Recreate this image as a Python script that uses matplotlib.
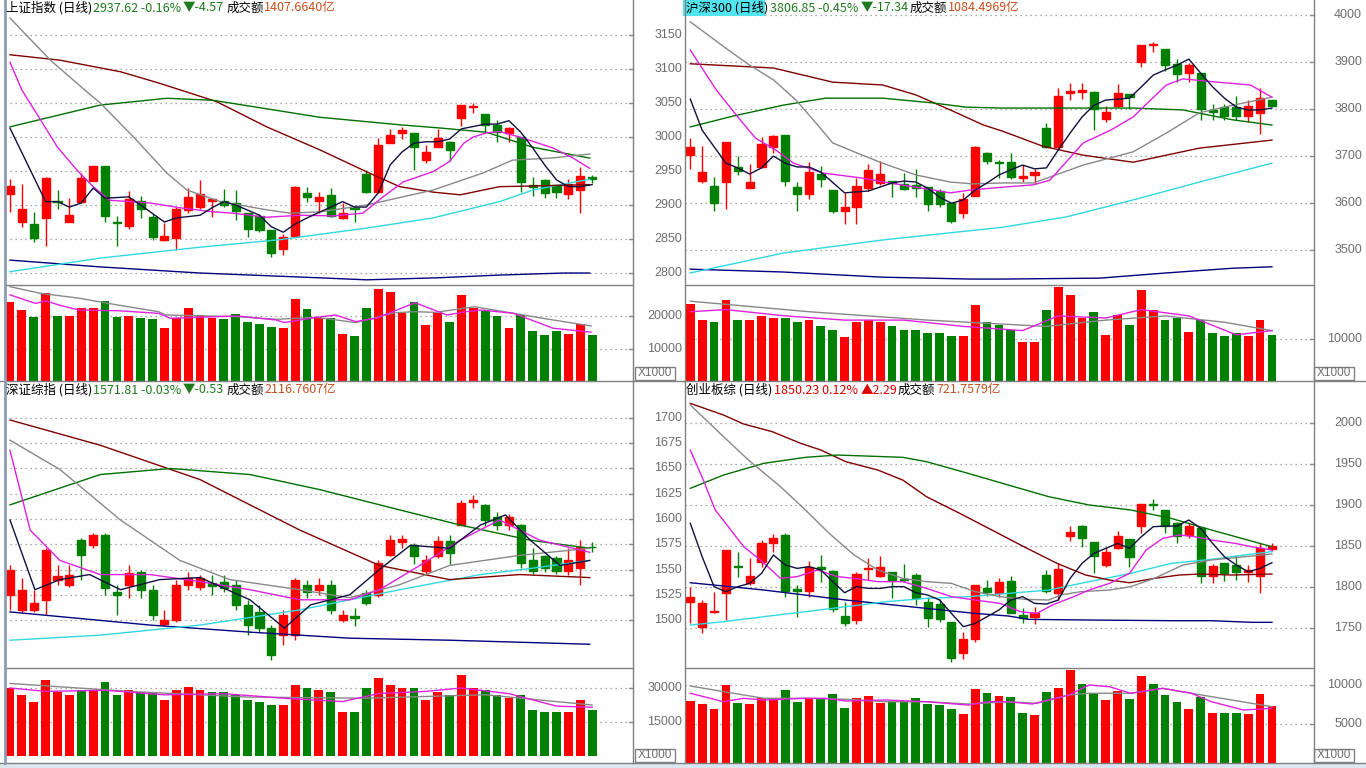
import matplotlib
matplotlib.use('Agg')
import matplotlib.pyplot as plt
import matplotlib.transforms as mtransforms
from matplotlib.patches import Rectangle
from matplotlib.lines import Line2D

W, H = 1366, 768
RED = '#ff0000'
GREEN = '#008000'
GRID = '#8c8c8c'
LABEL = '#6e6e6e'
CJK = ['Noto Sans CJK SC', 'DejaVu Sans']

# ---------------- 上证指数 ----------------
sh_open = [2916, 2875, 2872, 2881, 2906, 2875, 2904, 2935, 2957, 2875, 2869, 2906, 2882, 2849, 2852, 2893, 2897,
           2906, 2906, 2903, 2888, 2884, 2863, 2835, 2855, 2918, 2906, 2915, 2881, 2896, 2946, 2919, 2991, 3006,
           3006, 2966, 2985, 2993, 3028, 3044, 3034, 3018, 3006, 3000, 2930, 2937, 2930, 2916, 2922, 2940.5]
sh_high = [2938, 2931, 2890, 2941, 2922, 2910, 2947, 2957, 2957, 2884, 2921, 2913, 2887, 2874, 2897, 2925, 2937,
           2909, 2924, 2922, 2888, 2887, 2863, 2857, 2928, 2927, 2919, 2925, 2903, 2900, 2952, 2999, 3012, 3015,
           3006, 2988, 3012, 2994, 3047, 3050, 3034, 3025, 3015, 3000, 2941, 2938, 2930, 2938, 2956, 2944]
sh_low = [2890, 2868, 2846, 2840, 2894, 2875, 2903, 2935, 2875, 2840, 2865, 2881, 2849, 2847, 2834, 2888, 2894,
          2882, 2897, 2878, 2853, 2860, 2824, 2827, 2853, 2905, 2888, 2882, 2880, 2875, 2918, 2918, 2991, 2997,
          2952, 2962, 2985, 2965, 3016, 3035, 3006, 2993, 2993, 2919, 2913, 2910, 2910, 2909, 2888, 2932]
sh_close = [2928, 2894, 2852, 2940, 2904, 2885, 2940, 2957, 2884, 2874, 2909, 2894, 2853, 2855, 2894, 2912, 2916,
            2909, 2900, 2891, 2865, 2863, 2830, 2853, 2927, 2912, 2912, 2884, 2888, 2894, 2919, 2988, 3003, 3010,
            2985, 2978, 2999, 2981, 3047, 3046, 3018, 3007, 3013, 2934, 2927, 2918, 2919, 2931, 2942.2, 2937.6]
sh_vol = [24300, 21800, 19800, 27100, 20000, 20000, 22300, 22300, 24500, 19800, 20000, 19300, 19000, 16300, 19300,
          22300, 20300, 19500, 19200, 20600, 18300, 17700, 16800, 16300, 25200, 22100, 19300, 19300, 14500, 13900,
          22400, 28200, 27200, 21000, 24100, 17300, 20800, 18300, 26400, 22500, 21500, 20100, 16300, 20300, 15500,
          14200, 15500, 14500, 17600, 14200]
sh_black = [(0, 3013), (3, 2905), (4, 2905), (5, 2897), (6, 2903), (7, 2925), (8, 2910), (10, 2912), (11, 2900),
            (13, 2875), (14, 2881), (16, 2885), (17, 2896), (18, 2905), (19, 2900), (21, 2885), (22, 2868),
            (23, 2860), (24, 2872), (25, 2881), (28, 2905), (29, 2897), (30, 2897), (31, 2918), (32, 2959),
            (33, 2978), (34, 2991), (35, 2993), (36, 2993), (37, 2997), (38, 3012), (40, 3019), (41, 3019),
            (42, 3024), (43, 3007), (44, 2984), (45, 2959), (46, 2937), (47, 2927), (48, 2927), (49, 2930)]
sh_magenta = [(0, 3110), (1, 3069), (1.9, 3044), (4, 2985), (5.6, 2952), (7, 2927), (8.4, 2907), (11.8, 2903),
              (14.3, 2896), (17.1, 2890), (18.8, 2888), (21.6, 2882), (24.4, 2885), (27.2, 2884), (29.7, 2888),
              (31.4, 2912), (33.1, 2934), (35.6, 2949), (37, 2964), (38.2, 2991), (39, 3000), (40.1, 3006),
              (41.2, 3008), (42.9, 3000), (45.7, 2984), (47.4, 2969), (48.8, 2954)]
sh_gray = [(0, 3175), (3.4, 3113), (6.3, 3069), (7.6, 3050), (10.4, 3000), (13.2, 2947), (14.9, 2922),
           (17.7, 2905), (21.6, 2893), (23.6, 2888), (26.1, 2890), (30, 2900), (35.6, 2922), (39.8, 2947),
           (42.3, 2966), (45.5, 2969), (48.8, 2975)]
sh_green = [(0, 3015), (7.6, 3047), (13.2, 3057), (17.1, 3054), (26.1, 3029), (32.8, 3018), (36.4, 3013),
            (40.1, 3007), (44, 2985), (48.8, 2969)]
sh_maroon = [(0, 3121), (4.2, 3113), (9.3, 3096), (12.6, 3079), (17.4, 3052), (21.6, 3015), (26.1, 2981),
             (30, 2949), (32.8, 2927), (35.6, 2919), (37.9, 2915), (41.2, 2927), (44, 2928), (48.8, 2930)]
sh_cyan = [(0, 2802), (7.6, 2822), (16, 2838), (22.7, 2849), (26.1, 2857), (30, 2866), (35.6, 2881), (41.2, 2905),
           (44, 2922), (48.8, 2938)]
sh_navy = [(0, 2819), (7.6, 2809), (16, 2800), (26, 2793), (30, 2790), (36, 2793), (41.2, 2797), (46.6, 2800),
           (48.8, 2800)]
sh_vgray = [(0, 28900), (2.5, 26900), (5.8, 25400), (9.1, 23300), (12.5, 21300), (13.1, 20300), (19.1, 19800),
            (22.4, 19000), (25.8, 19600), (29.1, 18000), (32.4, 21000), (34.1, 21300), (35.8, 21100),
            (39.1, 22800), (42.4, 20800), (45.7, 18800), (48.9, 17000)]
sh_vmagenta = [(0, 26400), (2.15, 23800), (3, 24600), (4.15, 23300), (5.8, 21800), (9.1, 21600), (12.5, 20800),
               (13.5, 19300), (15.8, 19600), (19.1, 20000), (22.4, 18800), (23.1, 18000), (25.8, 19600),
               (27.4, 20300), (29.1, 18300), (30.8, 19300), (34.1, 24000), (36.8, 20300), (38.4, 21300),
               (39.7, 21800), (42.4, 20800), (45.7, 16300), (48.9, 15100)]
sh_ticks = [3150, 3100, 3050, 3000, 2950, 2900, 2850, 2800]
sh_vticks = [20000, 10000]

# ---------------- 沪深300 ----------------
hs_open = [3702, 3648, 3637, 3644, 3676, 3632, 3676, 3720, 3745, 3634, 3619, 3662, 3628, 3583, 3593, 3633, 3642,
           3647, 3641, 3639, 3634, 3626, 3601, 3579, 3616, 3706, 3688, 3688, 3654, 3660, 3759, 3719, 3835, 3837,
           3837, 3779, 3807, 3831, 3900, 3935, 3927, 3896, 3876, 3876, 3798, 3805, 3805, 3785, 3792, 3819]
hs_high = [3739, 3721, 3656, 3731, 3701, 3683, 3740, 3745, 3745, 3644, 3688, 3679, 3628, 3621, 3653, 3683, 3690,
           3647, 3665, 3672, 3634, 3630, 3601, 3622, 3721, 3709, 3692, 3707, 3681, 3672, 3770, 3844, 3856, 3855,
           3838, 3807, 3853, 3831, 3936, 3942, 3927, 3906, 3897, 3876, 3810, 3810, 3828, 3819, 3844, 3819]
hs_low = [3672, 3642, 3584, 3588, 3660, 3632, 3674, 3706, 3637, 3584, 3610, 3635, 3579, 3555, 3555, 3626, 3639,
          3613, 3628, 3613, 3584, 3593, 3557, 3568, 3616, 3683, 3653, 3651, 3646, 3641, 3717, 3717, 3819, 3821,
          3755, 3772, 3805, 3801, 3889, 3920, 3881, 3858, 3858, 3777, 3777, 3777, 3777, 3773, 3747, 3806]
hs_close = [3720, 3666, 3600, 3729, 3669, 3644, 3726, 3743, 3648, 3619, 3667, 3651, 3584, 3591, 3637, 3670, 3662,
            3642, 3630, 3633, 3598, 3598, 3563, 3609, 3720, 3690, 3686, 3655, 3657, 3666, 3719, 3828, 3838, 3840,
            3800, 3794, 3833, 3825, 3936, 3938, 3893, 3874, 3893, 3801, 3793, 3786, 3785, 3807, 3824.2, 3806.85]
hs_vol = [18300, 14500, 14000, 19300, 14500, 14500, 15500, 15000, 15000, 14000, 14500, 13100, 12100, 10500, 14000,
          14500, 14000, 13100, 12100, 12100, 11400, 11400, 10700, 10700, 18100, 14000, 13300, 12100, 9300, 9300,
          16900, 22400, 20500, 15000, 16400, 11000, 15700, 13300, 21700, 16900, 14500, 15000, 11700, 14500, 11400,
          10700, 11400, 10700, 14500, 11000]
hs_black = [(0, 3821), (1, 3755), (3, 3685), (4, 3675), (5, 3662), (6, 3675), (7, 3700), (8, 3685), (9, 3677),
            (10, 3677), (11, 3666), (13, 3622), (15, 3626), (17, 3643), (18, 3647), (19, 3645), (20, 3632),
            (21, 3613), (22, 3600), (23, 3607), (24, 3628), (25, 3643), (26, 3660), (27, 3671), (28, 3681),
            (29, 3673), (30, 3675), (31, 3713), (32, 3749), (33, 3783), (34, 3808), (35, 3819), (36, 3821),
            (37, 3823), (38, 3847), (39, 3872), (40, 3883), (41, 3893), (42, 3906), (43, 3876), (44, 3847),
            (45, 3823), (46, 3804), (47, 3798), (48, 3798), (49, 3802)]
hs_magenta = [(0, 3925), (2.2, 3840), (4.2, 3777), (5.5, 3738), (7.2, 3713), (8.7, 3685), (11.2, 3664),
              (14.3, 3654), (16.8, 3643), (19, 3634), (21.9, 3622), (23.6, 3628), (26.3, 3634), (28.9, 3639),
              (30.3, 3649), (33.1, 3728), (35.4, 3755), (37.3, 3783), (40.1, 3851), (41.5, 3864), (44.4, 3857),
              (47.2, 3851), (49, 3825)]
hs_gray = [(0, 3985), (3, 3929), (5, 3893), (7, 3862), (8.9, 3819), (10.6, 3770), (12, 3728), (14, 3707),
           (16.2, 3685), (19, 3660), (21.9, 3645), (23.8, 3641), (26.3, 3643), (28.9, 3643), (33.1, 3681),
           (37.3, 3709), (40.1, 3749), (42.9, 3792), (45.7, 3808), (49, 3825)]
hs_maroon = [(0, 3896), (7, 3887), (12, 3857), (16.2, 3851), (19, 3830), (21.9, 3798), (24.7, 3766),
             (26.3, 3753), (29.7, 3721), (33.1, 3702), (37.3, 3687), (40.1, 3702), (42.9, 3717), (49, 3734)]
hs_green = [(0, 3762), (3.6, 3785), (7.8, 3808), (11.4, 3823), (16.2, 3823), (20.4, 3813), (23.2, 3804),
            (26.3, 3802), (31.7, 3802), (37.3, 3802), (41.5, 3798), (45.7, 3777), (49, 3766)]
hs_cyan = [(0, 3452), (7.8, 3494), (16.2, 3522), (26.3, 3549), (31.7, 3571), (37.3, 3607), (42.9, 3645),
           (49, 3685)]
hs_navy = [(0, 3460), (7.8, 3454), (16.2, 3443), (23.6, 3439), (26.3, 3439), (34.5, 3441), (40.1, 3452),
           (45.7, 3462), (49, 3465)]
hs_vgray = [(0, 19000), (10, 16500), (20, 14500), (30, 13000), (35, 14500), (40, 15500), (45, 14000), (49, 12000)]
hs_vmagenta = [(0, 16500), (3, 17000), (8, 15500), (13, 14500), (18, 14500), (23, 13000), (28, 12000),
               (31, 15500), (35, 15000), (38, 17000), (42, 15500), (46, 11000), (49, 12000)]
hs_ticks = [4000, 3900, 3800, 3700, 3600, 3500]
hs_vticks = [10000]

# ---------------- 深证综指 ----------------
sz_open = [1525, 1510, 1510, 1520, 1540, 1535, 1579, 1574, 1584, 1528, 1535, 1548, 1530, 1496, 1500, 1535, 1533,
           1537, 1538, 1535, 1515, 1508, 1492, 1485, 1485, 1535, 1530, 1535, 1500, 1504, 1527, 1525, 1564, 1577,
           1574, 1549, 1563, 1578, 1594, 1617, 1614, 1602, 1594, 1594, 1559, 1563, 1561, 1549, 1551, 1572]
sz_high = [1554, 1542, 1530, 1571, 1554, 1554, 1581, 1586, 1586, 1535, 1554, 1550, 1535, 1510, 1540, 1548, 1545,
           1545, 1545, 1540, 1520, 1515, 1495, 1510, 1542, 1540, 1542, 1540, 1510, 1512, 1530, 1559, 1584, 1584,
           1576, 1564, 1583, 1584, 1619, 1624, 1615, 1607, 1605, 1595, 1571, 1564, 1563, 1571, 1579, 1577]
sz_low = [1510, 1508, 1508, 1505, 1535, 1533, 1540, 1571, 1525, 1505, 1522, 1522, 1500, 1494, 1498, 1530, 1530,
          1525, 1528, 1510, 1485, 1488, 1460, 1475, 1480, 1522, 1525, 1506, 1498, 1494, 1515, 1523, 1563, 1571,
          1555, 1545, 1561, 1555, 1594, 1611, 1593, 1589, 1589, 1551, 1546, 1548, 1546, 1545, 1535, 1567]
sz_close = [1550, 1530, 1517, 1569, 1544, 1545, 1564, 1584, 1532, 1525, 1547, 1530, 1505, 1500, 1535, 1542, 1542,
            1534, 1532, 1515, 1495, 1492, 1465, 1505, 1540, 1528, 1535, 1510, 1505, 1502, 1517, 1556, 1579, 1580,
            1563, 1559, 1578, 1566, 1616, 1619, 1599, 1594, 1602, 1556, 1549, 1551, 1549, 1559, 1572.3, 1571.8]
sz_vol = [30000, 26900, 23800, 33500, 28200, 26900, 29100, 29100, 32600, 26900, 29100, 28200, 28200, 24700, 29100,
          30400, 29100, 28200, 28200, 26900, 24700, 23800, 22500, 22500, 31300, 30000, 29100, 28200, 19400, 19400,
          30000, 34400, 31300, 30000, 30000, 24700, 28200, 26900, 35700, 30000, 29100, 26900, 25600, 26900, 20300,
          19400, 19400, 19400, 24700, 20300]
sz_black = [(0, 1599), (2.1, 1530), (4.2, 1540), (6.7, 1545), (9.3, 1530), (12.6, 1540), (16, 1542), (20.2, 1520),
            (23.1, 1492), (25.3, 1515), (28.6, 1525), (31.1, 1550), (33.7, 1574), (37, 1571), (39.6, 1594),
            (41.7, 1604), (43.8, 1579), (46.3, 1554), (48.8, 1559)]
sz_magenta = [(0, 1668), (1.7, 1589), (4.2, 1559), (7.6, 1545), (11.8, 1545), (16, 1538), (20.2, 1530),
              (24.4, 1520), (28.6, 1520), (31.1, 1530), (34.5, 1554), (37.9, 1579), (41.2, 1599), (44.6, 1579),
              (48.8, 1567)]
sz_gray = [(0, 1678), (4.2, 1649), (9.3, 1599), (14.3, 1559), (18.5, 1540), (24.4, 1530), (28.6, 1522),
           (32.8, 1535), (37, 1554), (42.9, 1564), (48.8, 1571)]
sz_green = [(0, 1614), (7.6, 1644), (13.5, 1650), (20.2, 1644), (26.1, 1629), (32.8, 1609), (37.9, 1594),
            (43.8, 1579), (48.8, 1571)]
sz_maroon = [(0, 1698), (7.6, 1673), (16, 1639), (24.4, 1589), (31.1, 1554), (37, 1540), (42.9, 1545),
             (48.8, 1542)]
sz_cyan = [(0, 1480), (7.6, 1485), (16, 1495), (24.4, 1510), (32.8, 1530), (39.6, 1545), (43.8, 1551),
           (48.8, 1559)]
sz_navy = [(0, 1508), (11.8, 1495), (20.2, 1488), (28.6, 1482), (37, 1480), (48.8, 1476)]
sz_vgray = [(0, 32000), (10, 28500), (20, 26000), (30, 25500), (40, 27000), (49, 22500)]
sz_vmagenta = [(0, 30000), (3, 28500), (8, 29000), (13, 27000), (18, 27500), (23, 25500), (28, 24000),
               (31, 27500), (35, 28500), (38, 30000), (42, 27500), (46, 22000), (49, 21500)]
sz_ticks = [1700, 1675, 1650, 1625, 1600, 1575, 1550, 1525, 1500]
sz_vticks = [30000, 15000]

# ---------------- 创业板综 ----------------
cy_open = [1782.1, 1751.6, 1769.5, 1793.0, 1825.6, 1804.4, 1830.8, 1854.0, 1863.4, 1797.1, 1795.5, 1824.8, 1819.9,
           1764.6, 1759.7, 1821.5, 1813.4, 1818.6, 1809.3, 1814.6, 1781.3, 1779.2, 1756.9, 1719.9, 1736.5, 1798.3,
           1793.0, 1807.3, 1765.8, 1763.0, 1814.6, 1792.2, 1862.1, 1874.3, 1854.4, 1826.8, 1847.1, 1858.1, 1874.3,
           1900.8, 1893.9, 1877.6, 1863.4, 1871.5, 1813.4, 1828.8, 1826.8, 1818.6, 1813.4, 1846.0]
cy_high = [1800.4, 1784.1, 1794.3, 1845.1, 1843.0, 1834.9, 1857.3, 1864.2, 1865.4, 1802.4, 1831.7, 1839.0, 1820.7,
           1782.1, 1818.6, 1834.9, 1837.8, 1818.6, 1828.0, 1816.6, 1788.2, 1784.9, 1756.9, 1745.5, 1802.4, 1808.5,
           1810.5, 1813.4, 1773.9, 1776.0, 1820.7, 1828.8, 1874.3, 1875.6, 1854.4, 1849.1, 1868.2, 1858.1, 1900.8,
           1907.3, 1893.9, 1879.6, 1878.4, 1871.5, 1828.0, 1828.8, 1839.0, 1826.8, 1854.0, 1853.2]
cy_low = [1755.6, 1743.5, 1767.8, 1759.7, 1811.7, 1802.4, 1824.8, 1843.0, 1787.4, 1763.8, 1788.2, 1806.5, 1769.9,
          1752.4, 1754.8, 1808.5, 1812.6, 1786.1, 1806.5, 1778.0, 1750.8, 1757.7, 1708.1, 1712.1, 1733.3, 1789.0,
          1788.2, 1767.8, 1755.6, 1754.8, 1793.0, 1784.1, 1856.5, 1849.1, 1816.6, 1824.8, 1845.9, 1824.8, 1865.4,
          1893.9, 1866.2, 1853.2, 1859.3, 1804.4, 1805.2, 1807.7, 1808.5, 1806.5, 1793.0, 1844.3]
cy_close = [1787.4, 1780.8, 1771.1, 1845.1, 1823.9, 1813.4, 1853.2, 1860.1, 1795.5, 1795.5, 1823.9, 1821.5, 1772.7,
            1756.5, 1815.8, 1823.5, 1823.9, 1808.5, 1808.5, 1786.1, 1761.7, 1760.5, 1713.8, 1736.5, 1802.4, 1794.3,
            1805.6, 1768.7, 1761.7, 1767.8, 1795.5, 1821.5, 1867.4, 1859.3, 1837.8, 1843.0, 1862.1, 1836.1, 1900.8,
            1899.5, 1874.3, 1862.1, 1874.3, 1813.4, 1826.0, 1816.6, 1818.6, 1820.7, 1847.9, 1850.23]
cy_vol = [7970, 7580, 6940, 10040, 7750, 7580, 8320, 8320, 9390, 7880, 8230, 8230, 8880, 7110, 8400, 8620, 7750,
          7970, 7880, 8400, 7580, 7450, 6940, 6290, 9520, 8970, 8660, 8450, 6380, 6160, 9100, 9610, 11980, 10170,
          8970, 8100, 9260, 8230, 11200, 10170, 8750, 7880, 6940, 8530, 6460, 6460, 6460, 6290, 8880, 7330]
cy_black = [(0, 1877.6), (1, 1836.9), (2, 1800.4), (3, 1794.3), (4, 1800.4), (5, 1804.4), (6, 1816.6),
            (7, 1839.0), (8, 1826.8), (9, 1822.7), (10, 1824.8), (11, 1820.7), (12, 1806.5), (13, 1793.0),
            (14, 1800.4), (15, 1798.3), (16, 1798.3), (17, 1800.4), (18, 1800.4), (19, 1793.0), (20, 1790.2),
            (21, 1784.1), (22, 1767.8), (23, 1751.6), (24, 1755.6), (25, 1763.8), (26, 1771.9), (27, 1784.1),
            (28, 1788.2), (29, 1780.0), (30, 1779.2), (31, 1784.1), (32, 1810.5), (33, 1828.8), (34, 1841.0),
            (35, 1847.1), (36, 1853.2), (37, 1847.1), (38, 1861.3), (39, 1873.5), (40, 1874.3), (41, 1874.3),
            (42, 1881.7), (43, 1871.5), (44, 1853.2), (45, 1836.9), (46, 1826.8), (47, 1818.6), (48, 1822.7),
            (49, 1829.6)]
cy_magenta = [(0, 1967.0), (1.1, 1930.4), (2.1, 1893.9), (3.2, 1873.5), (4.5, 1849.1), (5.9, 1832.9),
              (7.6, 1810.5), (9.0, 1812.6), (10.7, 1820.7), (12.4, 1812.6), (13.8, 1810.5), (15.8, 1806.5),
              (17.9, 1806.5), (19.9, 1798.3), (22.0, 1788.2), (24.0, 1784.1), (26.1, 1780.0), (27.8, 1769.9),
              (29.2, 1767.8), (30.5, 1778.0), (32.3, 1788.2), (33.6, 1796.3), (35.3, 1804.4), (37.0, 1816.6),
              (38.4, 1845.1), (39.8, 1859.3), (41.2, 1863.4), (42.5, 1861.3), (43.9, 1857.3), (45.9, 1853.2),
              (47.3, 1849.1), (49, 1845.1)]
cy_gray = [(0, 2021.9), (2.8, 1983.3), (4.9, 1954.8), (7.6, 1922.3), (9.7, 1893.9), (11.7, 1865.4), (13.8, 1839.0),
           (15.8, 1820.7), (17.9, 1810.5), (19.9, 1806.5), (22.0, 1804.4), (24.0, 1794.3), (26.1, 1788.2),
           (28.2, 1784.9), (30.2, 1784.1), (31.2, 1790.2), (32.9, 1794.3), (35.3, 1796.3), (37.1, 1800.4),
           (39.1, 1810.5), (41.5, 1826.8), (43.9, 1832.9), (49, 1840.2)]
cy_green = [(0, 1920.3), (2.8, 1936.5), (6.2, 1950.8), (9.7, 1958.1), (12.4, 1960.9), (14.8, 1959.7), (17.9, 1958.1),
            (19.9, 1952.8), (23.4, 1938.6), (26.8, 1924.3), (30.2, 1910.1), (33.6, 1900.0), (37.1, 1893.9),
            (40.5, 1883.7), (43.9, 1869.5), (49, 1849.1)]
cy_maroon = [(0, 2023.9), (2.8, 2009.7), (4.5, 1998.7), (6.9, 1989.4), (9.3, 1975.2), (11.0, 1967.0), (13.1, 1952.8),
             (15.8, 1942.6), (17.9, 1930.4), (19.9, 1910.1), (22.7, 1889.8), (25.4, 1869.5), (28.1, 1849.1),
             (30.9, 1828.8), (33.3, 1814.6), (35.3, 1808.5), (37.0, 1805.2), (39.1, 1810.5), (41.2, 1814.6),
             (42.9, 1815.8), (45.6, 1814.6), (49, 1815.8)]
cy_cyan = [(0, 1753.6), (2.8, 1757.7), (6.2, 1763.8), (9.7, 1769.9), (13.1, 1775.9), (16.5, 1782.1), (19.9, 1786.1),
           (23.4, 1788.2), (26.8, 1792.2), (30.2, 1796.3), (33.6, 1806.5), (37.1, 1816.6), (40.5, 1828.8),
           (43.9, 1833.7), (47.3, 1840.2), (49, 1843.1)]
cy_navy = [(0, 1805.2), (6.2, 1796.3), (13.1, 1784.1), (19.9, 1773.9), (24.0, 1767.8), (26.8, 1764.6),
           (28.5, 1760.5), (33.6, 1759.7), (40.5, 1758.9), (43.9, 1758.9), (47.3, 1756.9), (49, 1756.9)]
cy_vgray = [(0, 9910), (2.8, 9180), (6.2, 8320), (9.7, 8320), (13.1, 8190), (16.5, 7880), (19.9, 7880), (23.4, 7580),
            (26.8, 7880), (29.2, 7670), (31.9, 8750), (33.6, 8970), (37.1, 8970), (39.8, 9610), (42.2, 8970),
            (45.6, 8100), (49, 7240)]
cy_vmagenta = [(0, 8970), (1.1, 8540), (2.8, 7880), (4.5, 8320), (6.2, 8100), (9.7, 8320), (11.4, 8320),
               (13.1, 7970), (16.5, 8100), (19.9, 7880), (23.4, 7450), (25.1, 7880), (26.8, 7880), (28.8, 7580),
               (31.9, 8750), (33.6, 10040), (35.3, 9820), (37.1, 8970), (39.8, 9610), (42.2, 8970), (43.9, 7880),
               (46.6, 6810), (49, 7020)]
cy_ticks = [2000, 1950, 1900, 1850, 1800, 1750]
cy_vticks = [10000, 5000]

LINE_COLORS = {'black': '#101040', 'magenta': '#e020e0', 'gray': '#888888', 'green': '#007000',
               'maroon': '#800000', 'cyan': '#30d8e0', 'navy': '#000080'}


def rect(x0, y0, x1, y1):
    return [x0 / W, 1 - y1 / H, (x1 - x0) / W, (y1 - y0) / H]


def clean(ax):
    for s in ax.spines.values():
        s.set_visible(False)
    ax.set_xticks([])
    ax.set_yticks([])
    ax.patch.set_alpha(0)


def panel(box, split, first_x, step, plim, vlim, o, h, l, c, v, lines, vlines, ticks, vticks, label_x):
    x0, y0, x1, y1 = box
    axp = fig.add_axes(rect(x0, y0, x1, split))
    axv = fig.add_axes(rect(x0, split, x1, y1))
    xl = ((x0 - first_x) / step, (x1 - first_x) / step)
    for ax, lim in ((axp, plim), (axv, vlim)):
        clean(ax)
        ax.set_xlim(*xl)
        ax.set_ylim(*lim)
    for t in ticks:
        axp.axhline(t, color=GRID, lw=0.9, ls=(0, (1, 3)), zorder=0)
    for t in vticks:
        axv.axhline(t, color=GRID, lw=0.9, ls=(0, (1, 3)), zorder=0)
    # candles
    for i in range(len(o)):
        col = RED if c[i] >= o[i] else GREEN
        axp.vlines(i, l[i], h[i], color=col, lw=1, zorder=3)
        lo, hi = min(o[i], c[i]), max(o[i], c[i])
        axp.add_patch(Rectangle((i - 0.34, lo), 0.68, hi - lo, facecolor=col, edgecolor=col, lw=1, zorder=4))
    cols = [RED if c[i] >= o[i] else GREEN for i in range(len(o))]
    axv.bar(range(len(v)), v, width=0.74, color=cols, zorder=2)
    for name, pts in lines:
        xs, ys = zip(*pts)
        axp.plot(xs, ys, color=LINE_COLORS[name], lw=1, zorder=5)
    for name, pts in vlines:
        xs, ys = zip(*pts)
        axv.plot(xs, ys, color=LINE_COLORS[name], lw=1, zorder=5)
    # right strip labels
    for ax, tks in ((axp, ticks), (axv, vticks)):
        tr = mtransforms.blended_transform_factory(fig.transFigure, ax.transData)
        for t in tks:
            ax.text(label_x / W, t, str(t), transform=tr, ha='right', va='center', fontsize=9,
                    family='Liberation Sans', color=LABEL, clip_on=False)
            ax.plot([(x1 - 4) / W, x1 / W], [t, t], transform=tr, color=GRID, lw=1, clip_on=False)
    return axp, axv


fig = plt.figure(figsize=(W / 100, H / 100), dpi=100)
fig.patch.set_facecolor('white')

panel((5, 0, 633, 381), 285, 10, 11.88, (2782.4, 3201.5), (303, 29390),
      sh_open, sh_high, sh_low, sh_close, sh_vol,
      [('navy', sh_navy), ('cyan', sh_cyan), ('maroon', sh_maroon), ('green', sh_green), ('gray', sh_gray),
       ('magenta', sh_magenta), ('black', sh_black)],
      [('gray', sh_vgray), ('magenta', sh_vmagenta)], sh_ticks, sh_vticks, 682)

panel((685, 0, 1314, 381), 285, 690.3, 11.87, (3426.4, 4031.4), (0, 22860),
      hs_open, hs_high, hs_low, hs_close, hs_vol,
      [('navy', hs_navy), ('cyan', hs_cyan), ('maroon', hs_maroon), ('green', hs_green), ('gray', hs_gray),
       ('magenta', hs_magenta), ('black', hs_black)],
      [('gray', hs_vgray), ('magenta', hs_vmagenta)], hs_ticks, hs_vticks, 1362)

panel((5, 381, 633, 763), 668, 10, 11.88, (1452.5, 1736.6), (-3090, 38820),
      sz_open, sz_high, sz_low, sz_close, sz_vol,
      [('navy', sz_navy), ('cyan', sz_cyan), ('maroon', sz_maroon), ('green', sz_green), ('gray', sz_gray),
       ('magenta', sz_magenta), ('black', sz_black)],
      [('gray', sz_vgray), ('magenta', sz_vmagenta)], sz_ticks, sz_vticks, 682)

panel((685, 381, 1314, 763), 668, 690.3, 11.87, (1701.2, 2051.2), (-39, 12235),
      cy_open, cy_high, cy_low, cy_close, cy_vol,
      [('navy', cy_navy), ('cyan', cy_cyan), ('maroon', cy_maroon), ('green', cy_green), ('gray', cy_gray),
       ('magenta', cy_magenta), ('black', cy_black)],
      [('gray', cy_vgray), ('magenta', cy_vmagenta)], cy_ticks, cy_vticks, 1362)


def hline(x0, x1, y, color='#808080', lw=1):
    fig.add_artist(Line2D([x0 / W, x1 / W], [1 - y / H, 1 - y / H], color=color, lw=lw))


def vline(x, y0, y1, color='#808080', lw=1):
    fig.add_artist(Line2D([x / W, x / W], [1 - y0 / H, 1 - y1 / H], color=color, lw=lw))


# frame lines
hline(5, 633, 285)
hline(685, 1314, 285)
hline(5, 633, 668)
hline(685, 1314, 668)
hline(0, W, 381)
hline(0, W, 763)
vline(633, 0, 763)
vline(685, 0, 763)
vline(1314, 0, 763)
vline(4.5, 0, 763, color='#8a9cb8', lw=2)
fig.add_artist(Rectangle((0, 0), 1, 5 / H, transform=fig.transFigure, facecolor='#dce6f0', edgecolor='none'))

# X1000 boxes
for bx, by in ((635, 367), (1314, 367), (635, 749), (1314, 749)):
    fig.add_artist(Rectangle((bx / W, 1 - (by + 13) / H), 40 / W, 13 / H, transform=fig.transFigure,
                             facecolor='white', edgecolor='#808080', lw=1))
    fig.text((bx + 20) / W, 1 - (by + 6.5) / H, 'X1000', ha='center', va='center', fontsize=8.5,
             family='Liberation Sans', color=LABEL)

# header texts
fig.add_artist(Rectangle((683 / W, 1 - 16 / H), 82 / W, 16 / H, transform=fig.transFigure,
                         facecolor='#52e4ee', edgecolor='none'))
HG = '#1d7a1d'
HR = '#e00000'
HO = '#c8501e'
headers = [
    (8, [(6, '上证指数 (日线)', 'black'), (93, '2937.62 -0.16%', HG), (183, '▼-4.57', HG),
         (227, '成交额', 'black'), (264, '1407.6640亿', HO)]),
    (8, [(686, '沪深300 (日线)', 'black'), (770, '3806.85 -0.45%', HG), (861, '▼-17.34', HG),
         (910, '成交额', 'black'), (948, '1084.4969亿', HO)]),
    (390, [(6, '深证综指 (日线)', 'black'), (93, '1571.81 -0.03%', HG), (183, '▼-0.53', HG),
           (227, '成交额', 'black'), (264, '2116.7607亿', HO)]),
    (390, [(686, '创业板综 (日线)', 'black'), (774, '1850.23 0.12%', HR), (861, '▲2.29', HR),
           (898, '成交额', 'black'), (936, '721.7579亿', HO)]),
]
for y, segs in headers:
    for x, s, col in segs:
        fig.text(x / W, 1 - y / H, s, ha='left', va='center', fontsize=9, family=CJK, color=col)

fig.savefig('out.png', dpi=100)
